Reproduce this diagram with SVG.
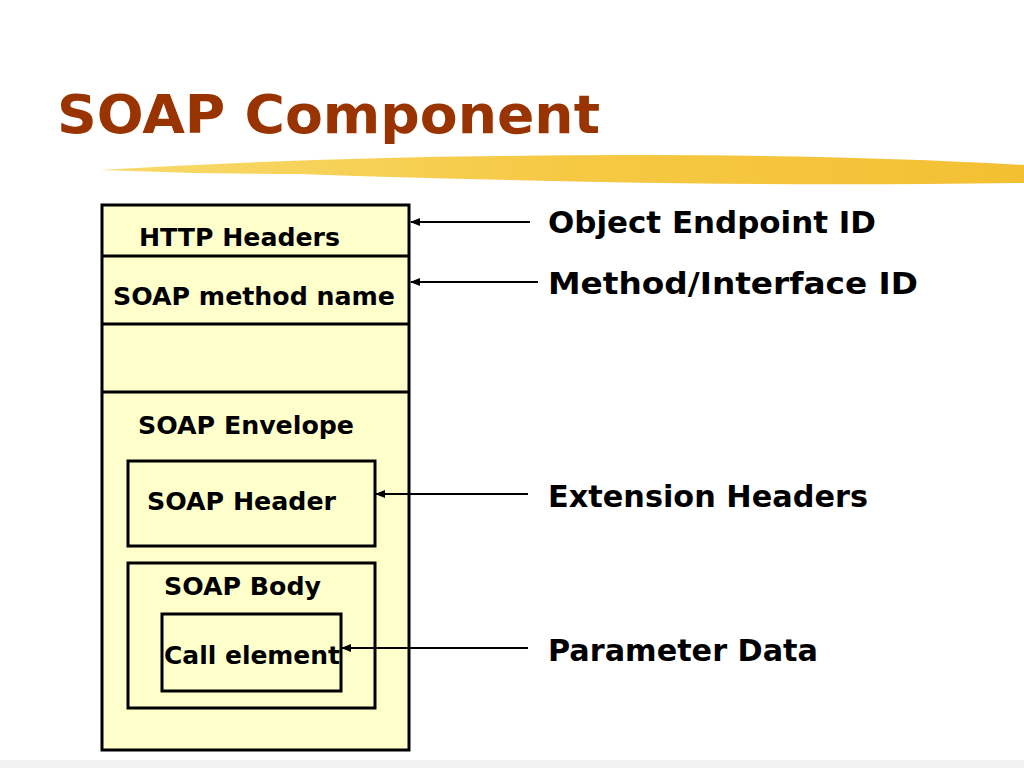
<svg xmlns="http://www.w3.org/2000/svg" width="1024" height="768" viewBox="0 0 1024 768">
<style>
.b{fill:#ffffcc;stroke:#000;stroke-width:3}
.t{font-family:"DejaVu Sans",Verdana,sans-serif;font-weight:bold;fill:#000}
.s{font-size:24px}
.l{font-size:30px}
.c{stroke:#000;stroke-width:2;fill:none;marker-end:url(#a)}
</style>
<defs>
<marker id="a" markerWidth="10" markerHeight="8" refX="9" refY="4" orient="auto" markerUnits="userSpaceOnUse"><path d="M0,0 L10,4 L0,8 Z" fill="#000"/></marker>
<linearGradient id="g" x1="0" x2="1"><stop offset="0" stop-color="#f7d65a"/><stop offset="0.5" stop-color="#f5c330"/><stop offset="1" stop-color="#f2b91c"/></linearGradient>
</defs>
<rect width="1024" height="768" fill="#fff"/>
<rect y="760" width="1024" height="8" fill="#f2f2f2"/>
<text x="57" y="133" font-family="Verdana,'DejaVu Sans',sans-serif" font-weight="bold" font-size="54" fill="#993300" textLength="543" lengthAdjust="spacingAndGlyphs">SOAP Component</text>
<path d="M100,170 Q300,158 500,156 Q800,152 1024,165 L1024,183 Q800,186 600,182 Q400,178 300,174 Q200,174 100,170 Z" fill="url(#g)" opacity="0.9"/>
<g id="outer"><rect class="b" x="102" y="205" width="307" height="545"/>
<line x1="102" y1="256" x2="409" y2="256" stroke="#000" stroke-width="3"/>
<line x1="102" y1="324" x2="409" y2="324" stroke="#000" stroke-width="3"/>
<line x1="102" y1="392" x2="409" y2="392" stroke="#000" stroke-width="3"/></g>
<g id="http"><text class="t s" x="139" y="246" textLength="201" lengthAdjust="spacingAndGlyphs">HTTP Headers</text></g>
<g id="method"><text class="t s" x="113" y="305" textLength="282" lengthAdjust="spacingAndGlyphs">SOAP method name</text></g>
<g id="envelope"><text class="t s" x="138" y="434" textLength="216" lengthAdjust="spacingAndGlyphs">SOAP Envelope</text></g>
<g id="header"><rect class="b" x="128" y="461" width="247" height="85"/><text class="t s" x="147" y="510" textLength="189" lengthAdjust="spacingAndGlyphs">SOAP Header</text></g>
<g id="body"><rect class="b" x="128" y="563" width="247" height="145"/><text class="t s" x="164" y="595" textLength="157" lengthAdjust="spacingAndGlyphs">SOAP Body</text></g>
<g id="call"><rect class="b" x="162" y="614" width="179" height="77"/><text class="t s" x="164" y="664" textLength="176" lengthAdjust="spacingAndGlyphs">Call element</text></g>
<g id="labels">
<text class="t l" x="548" y="233" textLength="328" lengthAdjust="spacingAndGlyphs">Object Endpoint ID</text>
<text class="t l" x="548" y="294" textLength="370" lengthAdjust="spacingAndGlyphs">Method/Interface  ID</text>
<text class="t l" x="548" y="507" textLength="320" lengthAdjust="spacingAndGlyphs">Extension Headers</text>
<text class="t l" x="548" y="661" textLength="270" lengthAdjust="spacingAndGlyphs">Parameter Data</text>
</g>
<g id="connectors">
<line class="c" x1="530" y1="222" x2="411" y2="222"/>
<line class="c" x1="538" y1="282" x2="411" y2="282"/>
<line class="c" x1="528" y1="494" x2="376" y2="494"/>
<line class="c" x1="528" y1="648" x2="342" y2="648"/>
</g>
</svg>
